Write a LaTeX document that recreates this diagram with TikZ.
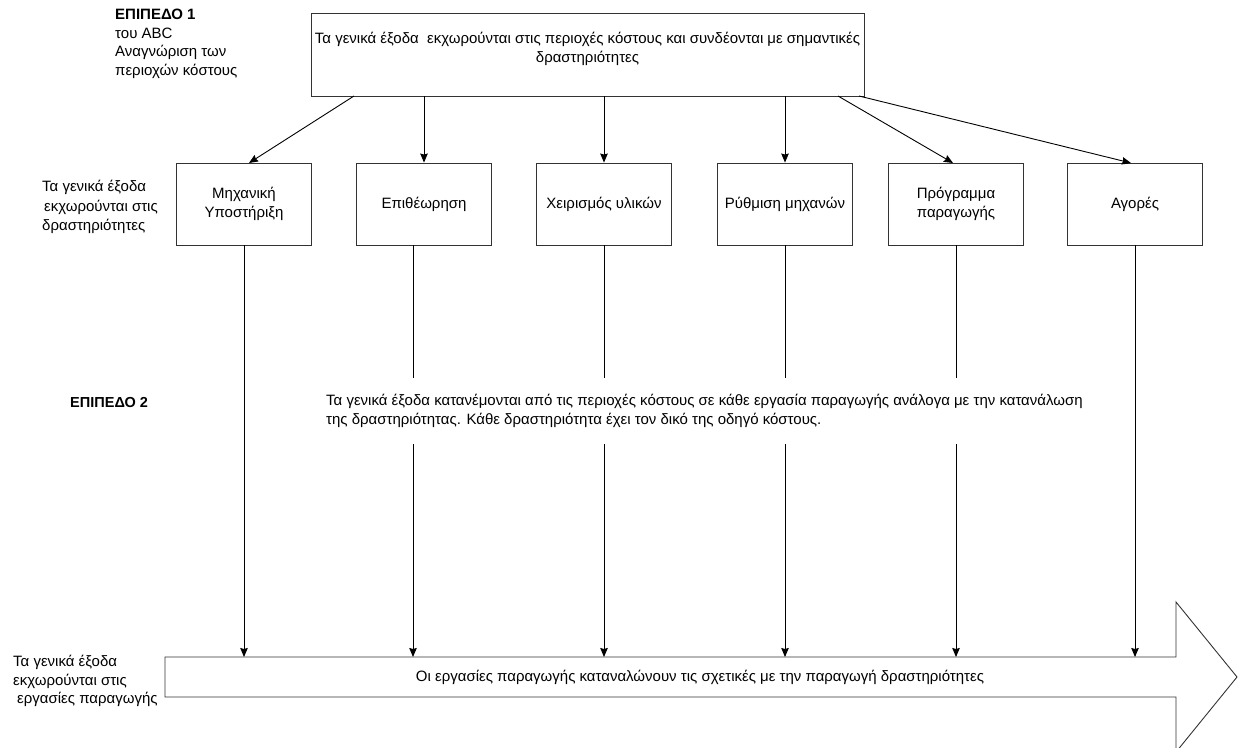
\documentclass[tikz,border=0pt]{standalone}
\usepackage{fontspec}
\setmainfont{Liberation Sans}
\usetikzlibrary{arrows.meta}

\begin{document}
\begin{tikzpicture}[x=1pt,y=-1pt,
  actbox/.style={draw=black!80,line width=0.9pt,minimum width=135pt,minimum height=82pt,align=center,font=\fontsize{15}{19}\selectfont},
  txt/.style={inner sep=0pt,font=\fontsize{15}{18.5}\selectfont},
  conn/.style={black,line width=0.9pt,-{Stealth[length=9pt,width=7.5pt,inset=1pt]}}]
\useasboundingbox (0,0) rectangle (1241,747);
% level 1
\node [txt,anchor=north west,align=left] (lvlone) at (115,9) {\textbf{ΕΠΙΠΕΔΟ 1}\\του ABC\\Αναγνώριση των\\περιοχών κόστους};
\node [draw=black!80,line width=0.9pt,minimum width=553pt,minimum height=83pt] (top) at (587.5,54.5) {};
\node [txt,align=center] (toptxt) at (587.5,49) {Τα γενικά έξοδα \ εκχωρούνται στις περιοχές κόστους και συνδέονται με σημαντικές\\δραστηριότητες};
% activities
\node [txt,anchor=west,align=left,font=\fontsize{15}{19.5}\selectfont] (lblact) at (42,207) {Τα γενικά έξοδα\\\hspace*{2pt}εκχωρούνται στις\\δραστηριότητες};
\node [actbox] (mech) at (244,204) {Μηχανική\\Υποστήριξη};
\node [actbox] (insp) at (424,204) {Επιθέωρηση};
\node [actbox] (matl) at (604,204) {Χειρισμός υλικών};
\node [actbox] (setup) at (785,204) {Ρύθμιση μηχανών};
\node [actbox] (sched) at (956,204) {Πρόγραμμα\\παραγωγής};
\node [actbox] (purch) at (1135,204) {Αγορές};
\coordinate (tmech) at (354,96);
\coordinate (tsched) at (838,96);
\coordinate (tpurch) at (859,96);
\draw [conn] (tmech) -- (249,163);
\draw [conn] (top.south -| insp) -- (insp);
\draw [conn] (top.south -| matl) -- (matl);
\draw [conn] (top.south -| setup) -- (setup);
\draw [conn] (tsched) -- (953,163);
\draw [conn] (tpurch) -- (1131,163);
% flow arrow
\coordinate (s1) at (165,657);
\coordinate (s2) at (1176,657);
\coordinate (h1) at (1176,602);
\coordinate (tip) at (1237,677);
\coordinate (h2) at (1176,752);
\coordinate (s3) at (1176,697);
\coordinate (s4) at (165,697);
\draw [black!80,line width=0.9pt] (s1) -- (s2) -- (h1) -- (tip) -- (h2) -- (s3) -- (s4) -- cycle;
\node [txt] (flowtxt) at (700,677) {Οι εργασίες παραγωγής καταναλώνουν τις σχετικές με την παραγωγή δραστηριότητες};
\node [txt,anchor=west,align=left] (lblops) at (13,681) {Τα γενικά έξοδα\\εκχωρούνται στις\\\hspace*{4pt}εργασίες παραγωγής};
\draw [conn] (mech) -- (mech |- s1);
\draw [conn] ([xshift=-11pt]insp.south) -- ([xshift=-11pt]insp.south |- s1);
\draw [conn] (matl) -- (matl |- s1);
\draw [conn] (setup) -- (setup |- s1);
\draw [conn] (sched) -- (sched |- s1);
\draw [conn] (purch) -- (purch |- s1);
% level 2
\node [txt,anchor=west,font=\fontsize{14.5}{18}\selectfont] (lvltwo) at (70,403) {\textbf{ΕΠΙΠΕΔΟ 2}};
\node [txt,anchor=west,align=left,fill=white,inner xsep=6pt,inner ysep=17pt] (alloc) at (320,411) {Τα γενικά έξοδα κατανέμονται από τις περιοχές κόστους σε κάθε εργασία παραγωγής ανάλογα με την κατανάλωση\\της δραστηριότητας. Κάθε δραστηριότητα έχει τον δικό της οδηγό κόστους.};
\end{tikzpicture}
\end{document}
